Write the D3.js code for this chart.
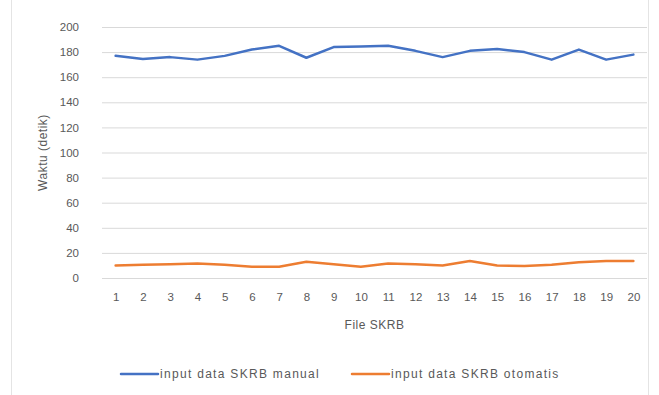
<!DOCTYPE html>
<html><head><meta charset="utf-8">
<script src="https://cdn.jsdelivr.net/npm/d3@7"></script>
<style>body{margin:0;background:#fff;font-family:"Liberation Sans",Arial,sans-serif;}</style>
</head><body>
<svg id="c" width="659" height="395"></svg>
<script>
const categories = ["1","2","3","4","5","6","7","8","9","10","11","12","13","14","15","16","17","18","19","20"];
const manualValues = [177,174.5,176,174,177,182,185,175.5,184,184.5,185,181,176,181,182.5,180,174,182,174,178];
const otomatisValues = [10,10.5,11,11.5,10.5,9,9,13,11,9,11.5,11,10,13.5,10,9.5,10.5,12.5,13.5,13.5];
const yTicks = [0,20,40,60,80,100,120,140,160,180,200];
const seriesNames = ["input data SKRB manual","input data SKRB otomatis"];
const seriesColors = ["#4472C4","#ED7D31"];

const svg = d3.select("#c");
const mLeft = 102, mRight = 647, mTop = 27, mBottom = 278;
const x = d3.scalePoint().domain(categories).range([mLeft, mRight]).padding(0.5);
const y = d3.scaleLinear().domain([0,200]).range([mBottom, mTop]);

// outer frame
svg.append("rect").attr("x",11.5).attr("y",-1).attr("width",637).attr("height",397)
  .attr("fill","none").attr("stroke","#e4e4e4");

// gridlines
svg.append("g").selectAll("line").data(yTicks).join("line")
  .attr("x1",mLeft).attr("x2",mRight).attr("y1",d=>y(d)+0.5).attr("y2",d=>y(d)+0.5)
  .attr("stroke","#d9d9d9").attr("stroke-width",1);

// y axis labels
const yAxis = d3.axisLeft(y).tickValues(yTicks).tickSize(0).tickPadding(23);
const gy = svg.append("g").attr("transform",`translate(${mLeft},0)`).call(yAxis);
gy.select(".domain").remove();
gy.selectAll("text").attr("fill","#595959").style("font-size","11.5px").style("font-family","Liberation Sans, Arial, sans-serif");

// x axis labels
const xAxis = d3.axisBottom(x).tickSize(0).tickPadding(15);
const gx = svg.append("g").attr("transform",`translate(0,${mBottom})`).call(xAxis);
gx.select(".domain").remove();
gx.selectAll("text").attr("fill","#595959").style("font-size","11.5px").style("font-family","Liberation Sans, Arial, sans-serif");

// axis titles
svg.append("text").attr("transform",`translate(47,${(mTop+mBottom)/2}) rotate(-90)`)
  .attr("text-anchor","middle").attr("fill","#595959").style("font-size","12px").style("letter-spacing","0.5px").text("Waktu (detik)");
svg.append("text").attr("x",(mLeft+mRight)/2).attr("y",329)
  .attr("text-anchor","middle").attr("fill","#595959").style("font-size","12px").style("letter-spacing","0.5px").text("File SKRB");

// lines
const line = d3.line().x((d,i)=>x(categories[i])).y(d=>y(d));
[manualValues, otomatisValues].forEach((vals,k)=>{
  svg.append("path").datum(vals).attr("d",line).attr("fill","none")
    .attr("stroke",seriesColors[k]).attr("stroke-width",2.5).attr("stroke-linejoin","round").attr("stroke-linecap","round");
});

// legend
const legendX = [121, 352];
seriesNames.forEach((n,k)=>{
  const g = svg.append("g").attr("transform",`translate(${legendX[k]},374)`);
  g.append("line").attr("x1",0).attr("x2",37).attr("y1",0).attr("y2",0)
    .attr("stroke",seriesColors[k]).attr("stroke-width",2.5).attr("stroke-linecap","round");
  g.append("text").attr("x",39).attr("y",4).attr("fill","#595959").style("font-size","12px").style("letter-spacing","1.3px").text(n);
});
</script>
</body></html>
